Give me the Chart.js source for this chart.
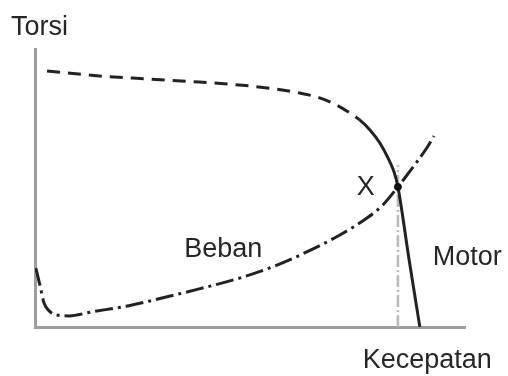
<!DOCTYPE html>
<html>
<head>
<meta charset="utf-8">
<script src="https://cdn.jsdelivr.net/npm/chart.js@4.4.1/dist/chart.umd.min.js"></script>
<style>
  html, body { margin: 0; padding: 0; background: #ffffff; }
  #wrap { width: 508px; height: 376px; position: relative; }
</style>
</head>
<body>
<div id="wrap"><canvas id="c" width="508" height="376"></canvas></div>
<script>
// Motor torque curve (speed, torque) in relative units 0..100
const motorSpeed  = [2.8, 14.9, 26.6, 38.2, 49.9, 61.5, 66.2, 69.7, 73.2, 75.5, 77.9, 80.2, 82.1, 83.5, 84.4, 86.9, 89.5];
const motorTorque = [92.1, 90.3, 89.2, 88.1, 86.7, 84.2, 82.4, 80.2, 77.0, 74.5, 70.9, 66.2, 60.8, 55.8, 50.4, 25.2, 0];
// Load torque curve
const loadSpeed  = [0.2, 1.2, 2.1, 3.3, 5.1, 7.9, 13.1, 22.6, 30.5, 38.2, 47.6, 55.2, 63.2, 70.9, 77.2, 80.9, 84.4, 86.0, 91.1, 92.8];
const loadTorque = [21.2, 14.7, 8.6, 5.8, 4.3, 4.0, 5.4, 7.9, 10.8, 13.7, 17.6, 21.6, 27.0, 33.1, 39.2, 43.9, 50.4, 53.6, 64.4, 68.7];
// Operating point X
const operatingSpeed = [84.4];
const operatingTorque = [50.4];
// Vertical guide from the operating point down to the speed axis
const guideSpeed = [84.4, 84.4];
const guideTorque = [0, 58.3];
// Text labels
const labelTexts = ['Torsi', 'X', 'Beban', 'Motor', 'Kecepatan'];

const toXY = (xs, ys) => xs.map((x, i) => ({ x: x, y: ys[i] }));

// label anchors (data units: left x, baseline y)
const labelAnchors = [
  [-5.6, 105.0],
  [74.8, 47.5],
  [34.7, 25.2],
  [92.5, 22.3],
  [76.2, -14.7]
];

const labelPlugin = {
  id: 'labels',
  afterDraw(chart) {
    const ctx = chart.ctx;
    const xs = chart.scales.x, ys = chart.scales.y;
    ctx.save();
    ctx.font = '27px "Liberation Sans", Arial, sans-serif';
    ctx.fillStyle = '#262626';
    ctx.textAlign = 'left';
    ctx.textBaseline = 'alphabetic';
    labelTexts.forEach((t, i) => {
      const a = labelAnchors[i];
      ctx.fillText(t, xs.getPixelForValue(a[0]), ys.getPixelForValue(a[1]));
    });
    ctx.restore();
  }
};

new Chart(document.getElementById('c'), {
  type: 'scatter',
  data: {
    datasets: [
      {
        label: 'X',
        data: toXY(operatingSpeed, operatingTorque),
        pointRadius: 3.5,
        pointBackgroundColor: '#111',
        pointBorderColor: '#111',
        showLine: false
      },
      {
        label: 'Motor',
        data: toXY(motorSpeed, motorTorque),
        showLine: true,
        borderColor: '#222',
        borderWidth: 3,
        pointRadius: 0,
        cubicInterpolationMode: 'monotone',
        segment: {
          borderDash: c => (c.p0.parsed.x < 75 ? [13, 8] : undefined)
        }
      },
      {
        label: 'Beban',
        data: toXY(loadSpeed, loadTorque),
        showLine: true,
        borderColor: '#222',
        borderWidth: 3,
        pointRadius: 0,
        cubicInterpolationMode: 'monotone',
        borderDash: [18, 5, 3, 5]
      },
      {
        label: 'guide',
        data: toXY(guideSpeed, guideTorque),
        showLine: true,
        borderColor: '#b8b8b8',
        borderWidth: 2.5,
        pointRadius: 0,
        borderDash: [12, 3, 2, 3]
      }
    ]
  },
  options: {
    responsive: false,
    maintainAspectRatio: false,
    animation: false,
    layout: { padding: { left: 35, right: 43, top: 49, bottom: 49 } },
    plugins: { legend: { display: false }, tooltip: { enabled: false } },
    scales: {
      x: {
        type: 'linear', min: 0, max: 100,
        ticks: { display: false },
        grid: { display: false, drawTicks: false },
        border: { display: true, color: '#9d9d9d', width: 3 }
      },
      y: {
        type: 'linear', min: 0, max: 100,
        ticks: { display: false },
        grid: { display: false, drawTicks: false },
        border: { display: true, color: '#9d9d9d', width: 3 }
      }
    }
  },
  plugins: [labelPlugin]
});
</script>
</body>
</html>
